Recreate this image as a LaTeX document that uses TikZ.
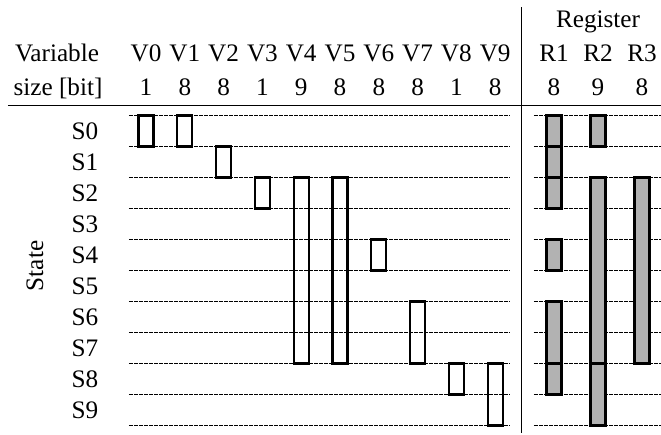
\documentclass[tikz,border=0pt]{standalone}
\usepackage{fontspec}
\setmainfont{Liberation Serif}
\usetikzlibrary{calc, positioning}

\begin{document}
\begin{tikzpicture}[x=0.5pt, y=-0.5pt, line join=miter,
  lbl/.style={font=\fontsize{12.6}{14}\selectfont, inner sep=0pt, anchor=base},
  rowline/.style={line width=0.45pt, dash pattern=on 0.9pt off 0.35pt},
  sepline/.style={line width=0.5pt},
  varbox/.style={line width=1.1pt},
  regbox/.style={line width=1.1pt, fill=black!30}]
\def\rowtop{115.5}
\def\rowh{31}
\def\colx{146}
\def\colw{38.8}
\def\regx{554}
\def\regw{44}
\def\boxw{7.5}

\useasboundingbox (0,0) rectangle (661,435);

% Dotted state rows, variable part and register part
\foreach \i in {0,...,10} {
  \draw[rowline] (129,{\rowtop+\i*\rowh}) -- (510,{\rowtop+\i*\rowh});
  \draw[rowline] (534,{\rowtop+\i*\rowh}) -- (661,{\rowtop+\i*\rowh});
}

% Table rules
\coordinate (hruleL) at (8,105);
\coordinate (hruleR) at (661,105);
\coordinate (vruleT) at (522,7);
\coordinate (vruleB) at (522,433);
\draw[sepline] (hruleL) -- (hruleR);
\draw[sepline] (vruleT) -- (vruleB);

% Headings
\node[lbl] (varhead) at (57,61) {Variable};
\node[lbl] (sizehead) at (58,95) {size [bit]};
\node[lbl] (reghead) at (598,27) {Register};
\node[lbl, anchor=center, rotate=90] (statehead) at (35,266) {State};

% Variable names and sizes
\foreach \c/\s in {0/1, 1/8, 2/8, 3/1, 4/9, 5/8, 6/8, 7/8, 8/1, 9/8} {
  \node[lbl] (V\c) at ({\colx+\c*\colw},61) {V\c};
  \node[lbl] (Vsize\c) at ({\colx+\c*\colw},95) {\s};
}

% Register names and sizes
\foreach \c/\s in {1/8, 2/9, 3/8} {
  \node[lbl] (R\c) at ({\regx+(\c-1)*\regw},61) {R\c};
  \node[lbl] (Rsize\c) at ({\regx+(\c-1)*\regw},95) {\s};
}

% State names
\foreach \i in {0,...,9}
  \node[lbl, anchor=center] (S\i) at (85,{\rowtop+(\i+0.5)*\rowh}) {S\i};

% Lifetimes of the variables: column/first state/last state
\foreach \c/\a/\b in {0/0/0, 1/0/0, 2/1/1, 3/2/2, 4/2/7, 5/2/7, 6/4/4, 7/6/7, 8/8/8, 9/8/9}
  \draw[varbox] ({\colx+\c*\colw-\boxw},{\rowtop+\a*\rowh})
    rectangle ({\colx+\c*\colw+\boxw},{\rowtop+(\b+1)*\rowh});

% Register occupation
\foreach \c/\a/\b in {0/0/0, 0/1/1, 0/2/2, 0/4/4, 0/6/7, 0/8/8, 1/0/0, 1/2/7, 1/8/9, 2/2/7}
  \draw[regbox] ({\regx+\c*\regw-\boxw},{\rowtop+\a*\rowh})
    rectangle ({\regx+\c*\regw+\boxw},{\rowtop+(\b+1)*\rowh});
\end{tikzpicture}
\end{document}
